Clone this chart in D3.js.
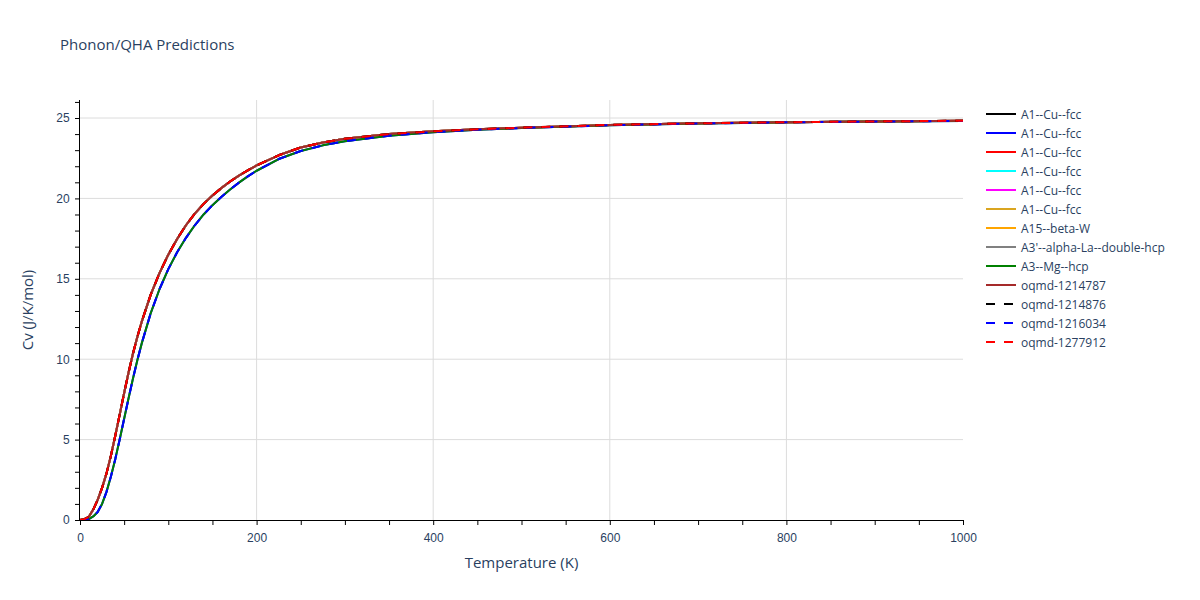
<!DOCTYPE html>
<html>
<head>
<meta charset="utf-8">
<script src="https://cdn.jsdelivr.net/npm/d3@7"></script>
<style>
  body { margin: 0; background: #fff; }
  svg { font-family: "Open Sans", verdana, arial, sans-serif; }
</style>
</head>
<body>
<svg id="chart" width="1200" height="600"></svg>
<script>
// ---- data ----
const temps = [0, 5, 10, 15, 20, 25, 30, 35, 40, 45, 50, 55, 60, 65, 70, 80, 90, 100, 110, 120, 130, 140, 150, 160, 170, 180, 190, 200, 225, 250, 275, 300, 350, 400, 450, 500, 600, 700, 800, 900, 1000];
const cvFast = [0, 0.05, 0.2, 0.65, 1.25, 2.0, 2.9, 4.0, 5.25, 6.57, 7.9, 9.17, 10.35, 11.4, 12.35, 14.0, 15.35, 16.5, 17.48, 18.33, 19.05, 19.66, 20.18, 20.64, 21.05, 21.42, 21.75, 22.05, 22.68, 23.17, 23.48, 23.71, 24.0, 24.17, 24.3, 24.4, 24.57, 24.67, 24.74, 24.79, 24.83];
const cvSlow = [0, 0.01, 0.06, 0.22, 0.5, 1.0, 1.75, 2.7, 3.8, 5.02, 6.3, 7.57, 8.8, 9.95, 11.0, 12.85, 14.35, 15.6, 16.65, 17.55, 18.33, 19.0, 19.58, 20.09, 20.55, 20.98, 21.37, 21.72, 22.45, 22.95, 23.3, 23.56, 23.9, 24.12, 24.27, 24.38, 24.55, 24.66, 24.73, 24.78, 24.82];

const seriesNames = ["A1--Cu--fcc", "A1--Cu--fcc", "A1--Cu--fcc", "A1--Cu--fcc", "A1--Cu--fcc", "A1--Cu--fcc", "A15--beta-W", "A3'--alpha-La--double-hcp", "A3--Mg--hcp", "oqmd-1214787", "oqmd-1214876", "oqmd-1216034", "oqmd-1277912"];
const seriesColors = ["black", "blue", "red", "cyan", "magenta", "goldenrod", "orange", "gray", "green", "brown", "black", "blue", "red"];
const seriesDash = [false, false, false, false, false, false, false, false, false, false, true, true, true];
const seriesValues = [cvFast, cvSlow, cvFast, cvFast, cvFast, cvFast, cvFast, cvFast, cvSlow, cvFast, cvFast, cvSlow, cvFast];

const xTicks = [0, 200, 400, 600, 800, 1000];
const yTicks = [0, 5, 10, 15, 20, 25];

// ---- layout ----
const svg = d3.select("#chart");
const mLeft = 80, mRight = 963, mTop = 100, mBottom = 520;
const x = d3.scaleLinear().domain([0, 1000]).range([mLeft, mRight]);
const y = d3.scaleLinear().domain([0, 26.12]).range([mBottom, mTop]);
const textColor = "#2a3f5f";

// gridlines
svg.append("g").selectAll("line").data(yTicks.filter(d => d > 0)).join("line")
  .attr("x1", mLeft).attr("x2", mRight)
  .attr("y1", d => y(d)).attr("y2", d => y(d))
  .attr("stroke", "#dcdcdc").attr("stroke-width", 1);
svg.append("g").selectAll("line").data(xTicks.filter(d => d > 0 && d < 1000)).join("line")
  .attr("y1", mTop).attr("y2", mBottom)
  .attr("x1", d => x(d)).attr("x2", d => x(d))
  .attr("stroke", "#dcdcdc").attr("stroke-width", 1);

// lines
const line = d3.line().x(d => x(d[0])).y(d => y(d[1]));
const plot = svg.append("g");
seriesNames.forEach((name, i) => {
  const pts = temps.map((t, j) => [t, seriesValues[i][j]]);
  plot.append("path")
    .attr("d", line(pts))
    .attr("fill", "none")
    .attr("stroke", seriesColors[i])
    .attr("stroke-width", 2)
    .attr("stroke-dasharray", seriesDash[i] ? "9,9" : null)
    .attr("stroke-linejoin", "round");
});

// axes
const xMinor = d3.range(0, 1001, 50);
const yMinor = d3.range(0, 27, 1);
const xAxis = d3.axisBottom(x).tickValues(xMinor).tickSize(5)
  .tickFormat(d => xTicks.includes(d) ? d : "");
const gx = svg.append("g").attr("transform", `translate(0,${mBottom})`).call(xAxis);
gx.select(".domain").attr("stroke", "#000").attr("d", `M${mLeft},0.5H${mRight}`);
gx.selectAll(".tick line").attr("stroke", "#000");
gx.selectAll(".tick text").attr("fill", textColor).attr("font-size", 12).attr("dy", "1.15em");

const yAxis = d3.axisLeft(y).tickValues(yMinor).tickSize(5)
  .tickFormat(d => yTicks.includes(d) ? d : "");
const gy = svg.append("g").attr("transform", `translate(${mLeft},0)`).call(yAxis);
gy.select(".domain").attr("stroke", "#000").attr("d", `M-0.5,${mTop}V${mBottom}`);
gy.selectAll(".tick line").attr("stroke", "#000");
gy.selectAll(".tick text").attr("fill", textColor).attr("font-size", 12).attr("dx", "-0.2em");

// titles
svg.append("text").attr("x", 60).attr("y", 50).attr("fill", textColor)
  .attr("font-size", 15).text("Phonon/QHA Predictions");
svg.append("text").attr("x", (mLeft + mRight) / 2).attr("y", 568).attr("text-anchor", "middle")
  .attr("fill", textColor).attr("font-size", 15).text("Temperature (K)");
svg.append("text").attr("transform", `translate(33,${(mTop + mBottom) / 2}) rotate(-90)`)
  .attr("text-anchor", "middle").attr("fill", textColor).attr("font-size", 15).text("Cv (J/K/mol)");

// legend
const lg = svg.append("g").attr("transform", "translate(985,114)");
seriesNames.forEach((name, i) => {
  const g = lg.append("g").attr("transform", `translate(0,${i * 19})`);
  g.append("line").attr("x1", 1).attr("x2", 31).attr("y1", 0).attr("y2", 0)
    .attr("stroke", seriesColors[i]).attr("stroke-width", 2)
    .attr("stroke-dasharray", seriesDash[i] ? "9,9" : null);
  g.append("text").attr("x", 36).attr("y", 4.5).attr("fill", textColor)
    .attr("font-size", 12).text(name);
});
</script>
</body>
</html>
